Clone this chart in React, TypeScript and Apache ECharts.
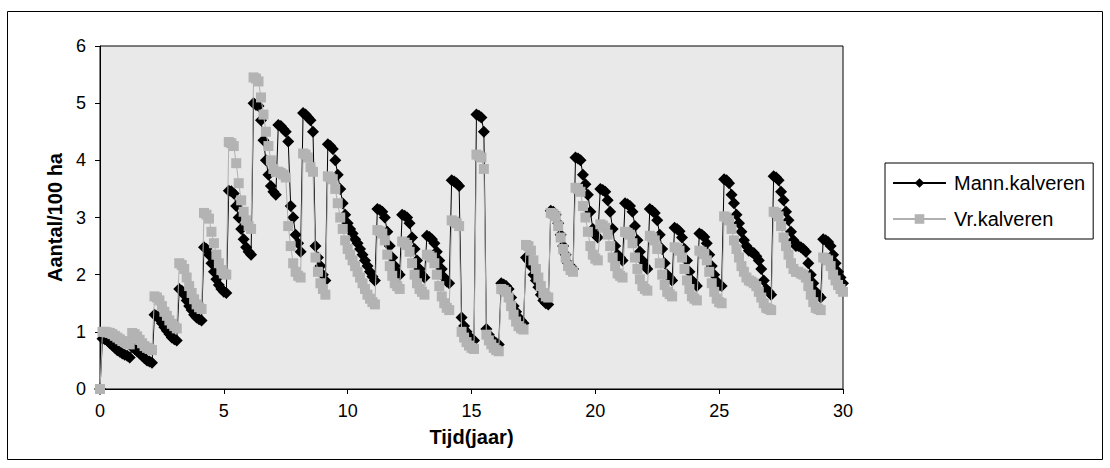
import React, { useEffect, useRef } from "react";
import * as echarts from "echarts";

// Tijd (jaar) ticks and axis labels
const xTicks = [0, 5, 10, 15, 20, 25, 30];
const yTicks = [0, 1, 2, 3, 4, 5, 6];
const seriesNames = ["Mann.kalveren", "Vr.kalveren"];

const mannJaar: number[][] = [
  [0, 0.88, 0.87, 0.85, 0.8, 0.76, 0.72, 0.68, 0.65, 0.62],
  [0.6, 0.58, 0.55, 0.73, 0.7, 0.66, 0.62, 0.58, 0.54, 0.5],
  [0.48, 0.46, 1.3, 1.28, 1.22, 1.15, 1.08, 1.02, 0.96, 0.9],
  [0.87, 0.85, 1.75, 1.72, 1.65, 1.55, 1.45, 1.38, 1.3, 1.25],
  [1.22, 1.2, 2.48, 2.45, 2.35, 2.2, 2.05, 1.92, 1.82, 1.75],
  [1.7, 1.68, 3.47, 3.46, 3.42, 3.2, 3.0, 2.8, 2.62, 2.48],
  [2.4, 2.35, 5.0, 4.97, 4.95, 4.7, 4.35, 4.0, 3.75, 3.55],
  [3.45, 3.4, 4.62, 4.6, 4.55, 4.5, 4.33, 3.2, 3.0, 2.7],
  [2.55, 2.4, 4.83, 4.8, 4.75, 4.7, 4.5, 2.5, 2.3, 2.15],
  [2.0, 1.9, 4.28, 4.25, 4.2, 4.0, 3.75, 3.5, 3.25, 3.05],
  [2.9, 2.8, 2.72, 2.62, 2.55, 2.45, 2.35, 2.25, 2.15, 2.05],
  [1.97, 1.9, 3.15, 3.13, 3.1, 3.0, 2.75, 2.5, 2.3, 2.15],
  [2.05, 2.0, 3.05, 3.03, 3.0, 2.9, 2.65, 2.45, 2.25, 2.1],
  [2.0, 1.95, 2.68, 2.66, 2.62, 2.55, 2.4, 2.25, 2.1, 1.95],
  [1.88, 1.85, 3.65, 3.63, 3.6, 3.55, 1.25, 1.1, 1.0, 0.92],
  [0.88, 0.85, 4.8, 4.78, 4.75, 4.5, 1.05, 0.95, 0.88, 0.82],
  [0.8, 0.78, 1.85, 1.83, 1.8, 1.75, 1.6, 1.45, 1.35, 1.25],
  [1.2, 1.15, 2.3, 2.25, 2.15, 2.0, 1.9, 1.78, 1.65, 1.55],
  [1.5, 1.48, 3.12, 3.1, 3.05, 2.9, 2.7, 2.5, 2.35, 2.2],
  [2.15, 2.1, 4.05, 4.03, 4.0, 3.75, 3.58, 3.4, 3.1, 2.8],
  [2.7, 2.65, 3.5, 3.48, 3.45, 3.3, 3.1, 2.8, 2.5, 2.35],
  [2.3, 2.25, 3.25, 3.23, 3.2, 3.1, 2.85, 2.6, 2.4, 2.25],
  [2.15, 2.1, 3.15, 3.12, 3.08, 2.95, 2.7, 2.45, 2.2, 2.0],
  [1.95, 1.9, 2.82, 2.8, 2.76, 2.65, 2.45, 2.25, 2.05, 1.9],
  [1.85, 1.8, 2.72, 2.7, 2.66, 2.55, 2.35, 2.15, 2.0, 1.88],
  [1.82, 1.8, 3.67, 3.65, 3.6, 3.4, 3.25, 3.05, 2.9, 2.75],
  [2.6, 2.5, 2.42, 2.4, 2.38, 2.32, 2.25, 2.1, 1.9, 1.75],
  [1.7, 1.65, 3.72, 3.7, 3.65, 3.45, 3.3, 3.1, 2.95, 2.75],
  [2.6, 2.5, 2.5, 2.48, 2.45, 2.4, 2.2, 2.0, 1.85, 1.7],
  [1.65, 1.6, 2.62, 2.6, 2.57, 2.5, 2.35, 2.2, 2.05, 1.95],
];
const mannEind = 1.85;

const vrJaar: number[][] = [
  [0, 1.0, 1.0, 0.99, 0.98, 0.96, 0.93, 0.9, 0.87, 0.84],
  [0.82, 0.8, 0.78, 0.98, 0.96, 0.92, 0.86, 0.8, 0.75, 0.72],
  [0.7, 0.68, 1.62, 1.6, 1.55, 1.45, 1.35, 1.28, 1.2, 1.14],
  [1.1, 1.06, 2.2, 2.17, 2.1, 1.95, 1.8, 1.68, 1.57, 1.48],
  [1.43, 1.4, 3.08, 3.05, 2.98, 2.75, 2.55, 2.35, 2.2, 2.08],
  [2.02, 2.0, 4.32, 4.3, 4.25, 3.95, 3.6, 3.3, 3.1, 2.95],
  [2.85, 2.8, 5.45, 5.43, 5.38, 5.1, 4.8, 4.5, 4.25, 4.0],
  [3.85, 3.8, 3.8, 3.78, 3.75, 3.7, 2.85, 2.5, 2.2, 2.05],
  [1.98, 1.95, 4.12, 4.1, 4.05, 3.88, 3.8, 2.3, 2.05, 1.85],
  [1.75, 1.65, 3.72, 3.7, 3.67, 3.5, 3.25, 3.0, 2.8, 2.6],
  [2.45, 2.35, 2.25, 2.15, 2.05, 1.95, 1.85, 1.75, 1.65, 1.58],
  [1.52, 1.48, 2.78, 2.76, 2.72, 2.6, 2.35, 2.15, 1.98, 1.85],
  [1.8, 1.75, 2.58, 2.56, 2.52, 2.4, 2.2, 2.0, 1.85, 1.75],
  [1.7, 1.65, 2.35, 2.33, 2.3, 2.2, 2.0, 1.8, 1.62, 1.5],
  [1.42, 1.38, 2.95, 2.93, 2.9, 2.85, 1.0, 0.9, 0.82, 0.76],
  [0.72, 0.7, 4.1, 4.08, 4.05, 3.85, 0.95, 0.85, 0.78, 0.72],
  [0.68, 0.66, 1.75, 1.73, 1.7, 1.6, 1.45, 1.3, 1.18, 1.1],
  [1.06, 1.04, 2.52, 2.5, 2.42, 2.25, 2.1, 1.95, 1.8, 1.68],
  [1.62, 1.6, 3.08, 3.06, 3.02, 2.85, 2.65, 2.45, 2.3, 2.15],
  [2.08, 2.05, 3.52, 3.5, 3.45, 3.2, 3.0, 2.75, 2.5, 2.35],
  [2.28, 2.25, 2.88, 2.86, 2.82, 2.7, 2.5, 2.3, 2.15, 2.02],
  [1.98, 1.95, 2.75, 2.73, 2.7, 2.55, 2.3, 2.1, 1.92, 1.8],
  [1.75, 1.72, 2.68, 2.65, 2.6, 2.45, 2.2, 2.0, 1.82, 1.7],
  [1.66, 1.62, 2.48, 2.46, 2.42, 2.3, 2.1, 1.9, 1.75, 1.62],
  [1.58, 1.55, 2.42, 2.4, 2.36, 2.25, 2.05, 1.85, 1.7, 1.58],
  [1.52, 1.5, 3.02, 3.0, 2.95, 2.8, 2.6, 2.45, 2.3, 2.15],
  [2.05, 1.95, 1.9, 1.88, 1.85, 1.8, 1.7, 1.6, 1.5, 1.42],
  [1.4, 1.38, 3.1, 3.08, 3.02, 2.85, 2.65, 2.5, 2.35, 2.2],
  [2.1, 2.05, 2.05, 2.02, 2.0, 1.95, 1.8, 1.65, 1.52, 1.42],
  [1.4, 1.38, 2.3, 2.28, 2.25, 2.15, 2.0, 1.9, 1.82, 1.75],
];
const vrEind = 1.7;

const STAP = 0.1;

function toPairs(perJaar: number[][], eind: number): number[][] {
  const out: number[][] = [];
  perJaar.forEach((row, jaar) => {
    row.forEach((v, k) => {
      out.push([+(jaar + k * STAP).toFixed(2), v]);
    });
  });
  out.push([perJaar.length, eind]);
  return out;
}

const FONT = "'Liberation Sans', Arial, sans-serif";

export default function App() {
  const ref = useRef<HTMLDivElement>(null);
  useEffect(() => {
    if (!ref.current) return;
    const chart = echarts.init(ref.current, null, { renderer: "svg" });
    chart.setOption({
      animation: false,
      backgroundColor: "#ffffff",
      textStyle: { fontFamily: FONT },
      graphic: [
        {
          type: "rect",
          shape: { x: 7.5, y: 11.5, width: 1095, height: 448 },
          style: { fill: "none", stroke: "#000", lineWidth: 1 },
          silent: true,
        },
      ],
      grid: {
        left: 100,
        right: 267,
        top: 46,
        bottom: 79,
        show: true,
        backgroundColor: "#e9e9e9",
        borderColor: "#000",
        borderWidth: 1,
      },
      legend: {
        orient: "vertical",
        left: 885,
        top: 163,
        data: seriesNames,
        itemWidth: 53,
        itemHeight: 12,
        itemGap: 16,
        padding: [10, 8, 10, 7],
        borderColor: "#000",
        borderWidth: 1,
        backgroundColor: "#fff",
        textStyle: { fontSize: 20, color: "#000", fontFamily: FONT, padding: [0, 0, 0, 3] },
      },
      xAxis: {
        type: "value",
        min: 0,
        max: 30,
        interval: 5,
        name: "Tijd(jaar)",
        nameLocation: "middle",
        nameGap: 38,
        nameTextStyle: { fontSize: 20, fontWeight: "bold", color: "#000", fontFamily: FONT },
        axisLine: { lineStyle: { color: "#000", width: 1 } },
        axisTick: { show: true, length: 5, lineStyle: { color: "#000" } },
        axisLabel: { fontSize: 18, color: "#000", margin: 13, fontFamily: FONT },
        splitLine: { show: false },
        data: xTicks,
      },
      yAxis: {
        type: "value",
        min: 0,
        max: 6,
        interval: 1,
        name: "Aantal/100 ha",
        nameLocation: "middle",
        nameRotate: 90,
        nameGap: 25,
        nameTextStyle: { fontSize: 20, fontWeight: "bold", color: "#000", fontFamily: FONT },
        axisLine: { show: true, lineStyle: { color: "#000", width: 1 } },
        axisTick: { show: true, length: 5, lineStyle: { color: "#000" } },
        axisLabel: { fontSize: 18, color: "#000", margin: 14, fontFamily: FONT },
        splitLine: { show: false },
        data: yTicks,
      },
      series: [
        {
          name: seriesNames[0],
          type: "line",
          data: toPairs(mannJaar, mannEind),
          symbol: "diamond",
          symbolSize: 12,
          showAllSymbol: true,
          lineStyle: { color: "#000", width: 1 },
          itemStyle: { color: "#000" },
          z: 2,
        },
        {
          name: seriesNames[1],
          type: "line",
          data: toPairs(vrJaar, vrEind),
          symbol: "rect",
          symbolSize: 10,
          showAllSymbol: true,
          lineStyle: { color: "#b0b0b0", width: 1 },
          itemStyle: { color: "#b3b3b3" },
          z: 3,
        },
      ],
    });
    return () => chart.dispose();
  }, []);
  return (
    <div
      ref={ref}
      style={{ position: "fixed", left: 0, top: 0, width: 1110, height: 468, background: "#fff" }}
    />
  );
}
